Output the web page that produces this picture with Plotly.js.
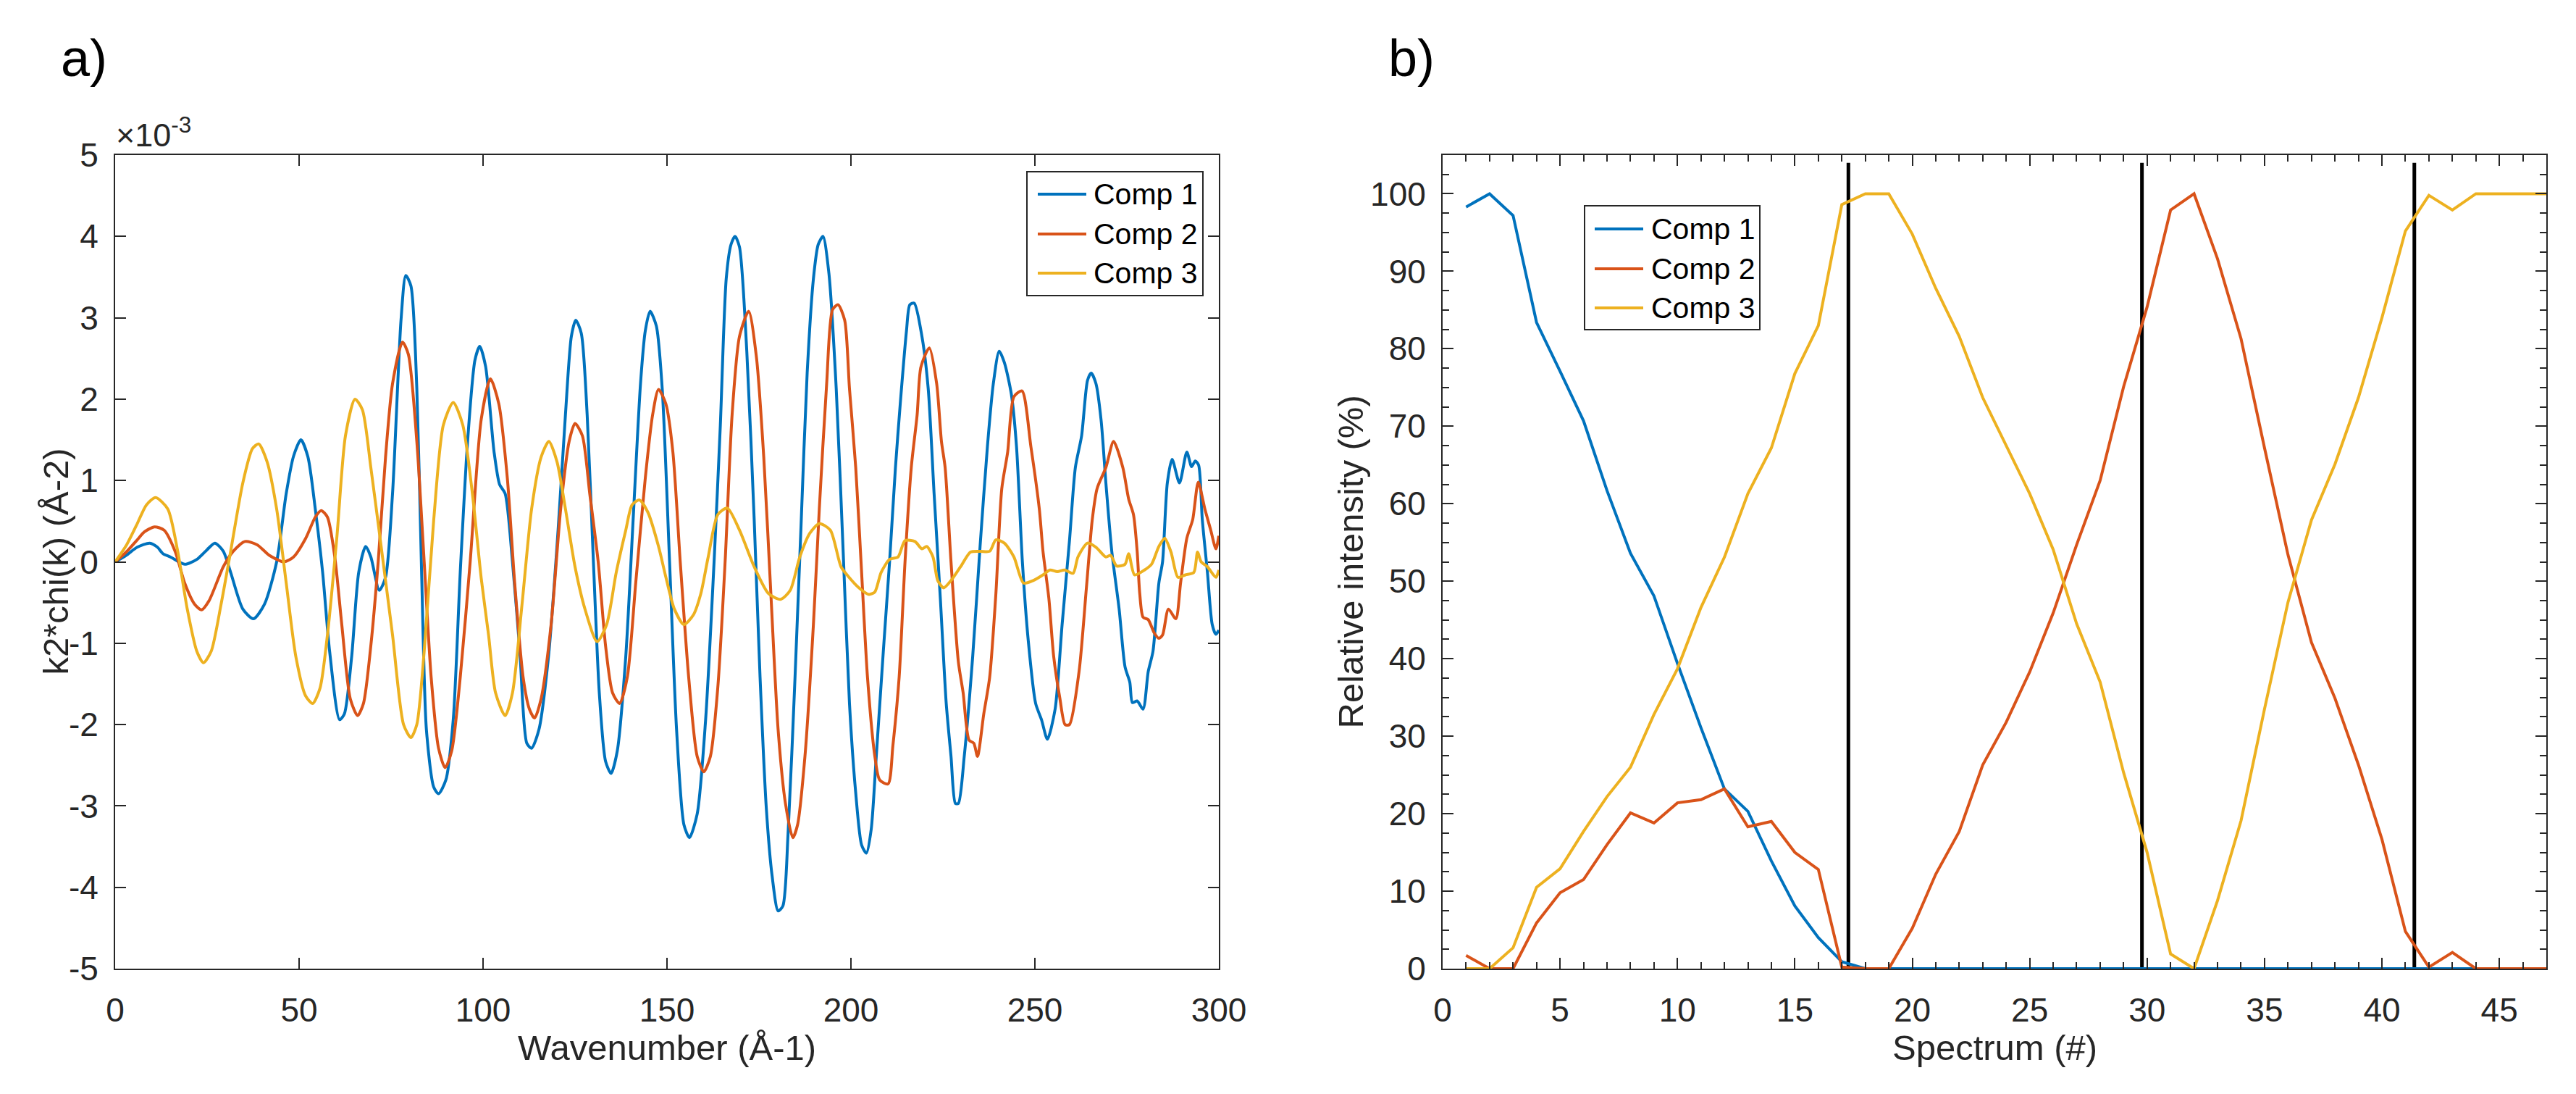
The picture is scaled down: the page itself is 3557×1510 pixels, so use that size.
<!DOCTYPE html>
<html>
<head>
<meta charset="utf-8">
<script src="https://cdn.plot.ly/plotly-3.0.1.min.js"></script>
<style>
html, body { margin: 0; padding: 0; background: #ffffff; overflow: hidden; }
#chart { width: 3557px; height: 1510px; }
</style>
</head>
<body>
<div id="chart"></div>
<script>
// ---------------- DATA ----------------
const seriesNames = ['Comp 1', 'Comp 2', 'Comp 3'];

// Panel a) : k2*chi(k), values in units of 1e-3
const comp1K = [0,3,6,9.4,11.5,13,15,18.9,22.2,25,27.1,29.4,31.4,34.7,37.6,40.6,43.9,46.5,48.5,50.5,52.4,54.4,56.4,58.3,61,62.3,64.3,66.2,68.1,69.5,71.8,73.5,75.4,77.7,79,80.4,82,83.3,84.6,86.6,87.9,89.9,91.9,93.8,95.8,97.8,99.1,100.7,103,104.5,106,108,110,111.9,113.2,115.2,117.8,120.4,122.4,124,125.2,126.7,128.3,130,131.6,133.3,134.8,136.5,138.8,140.8,142.8,144.1,145.4,147.1,148.7,150.7,152.6,154.6,156.1,158.2,160.5,162.8,164.5,166.1,167.4,168.5,169.7,171.7,173.7,175.3,177,178.6,180.2,181.5,182.9,184.8,186.5,188.1,189.8,191.1,192.4,194,196,198,199.6,201.3,202.9,204.2,205.5,206.8,208.8,210.5,212.1,213.4,215.1,216,217.2,219.3,221,222.6,224.3,225.9,227.2,228.4,229.2,230.8,233.1,235.1,237.1,238.7,240.3,241.7,243.6,245,246.6,248.2,250.2,251.8,253.4,255.5,257.4,259.4,261,262.7,264.3,265.3,266.6,268,269.3,270.9,272.9,274.5,275.8,276.5,277.8,279.4,280.8,282.1,283.7,284.7,286,287.3,289.3,291.3,292.6,293.6,294.5,295.5,296.9,298.2,299.2,300];
const comp1Chi = [0,0.08,0.18,0.23,0.18,0.1,0.06,-0.03,0.03,0.15,0.23,0.13,-0.13,-0.58,-0.70,-0.52,0,0.84,1.3,1.50,1.29,0.65,-0.13,-1.10,-1.94,-1.87,-1.16,-0.13,0.19,0.06,-0.35,-0.19,0.84,2.97,3.52,3.39,2.13,-0.13,-2.06,-2.77,-2.85,-2.68,-1.94,-0.13,1.48,2.48,2.65,2.40,1.35,0.95,0.84,0,-1.10,-2.23,-2.29,-2.06,-1.16,0.39,1.81,2.77,2.97,2.81,1.81,0,-1.61,-2.45,-2.60,-2.32,-1.16,0.52,2.19,2.84,3.08,2.90,2.13,0,-2.06,-3.23,-3.39,-3.10,-1.94,0,1.68,3.48,3.90,4.0,3.87,2.58,0.52,-1.42,-3.03,-3.87,-4.29,-4.23,-3.35,-1.42,0.52,2.32,3.48,3.90,4.0,3.55,2.13,0,-1.74,-2.84,-3.48,-3.58,-3.29,-2.45,-1.10,0,1.16,1.94,2.84,3.16,3.18,2.77,2.13,0.84,-0.45,-1.74,-2.39,-2.97,-2.97,-2.39,-1.16,0.19,1.42,2.19,2.59,2.45,2.06,1.42,0,-0.97,-1.74,-1.94,-2.18,-1.81,-0.77,0.26,1.16,1.55,2.23,2.32,2.19,1.74,0.97,0.13,-0.58,-1.29,-1.48,-1.73,-1.71,-1.81,-1.35,-1.10,-0.26,0,0.97,1.26,0.97,1.35,1.17,1.24,1.19,0.52,-0.13,-0.77,-0.89,-0.84];

const comp2K = [0,3,5.8,8,10.7,13.3,16.3,18.9,21.6,23.5,25.5,29.4,32.1,35.3,38.6,41.9,45.9,48.5,51.8,54.4,56,57.7,59.7,61.6,63.9,65.9,67.5,69.5,71.5,73.5,75.4,78.1,79.7,82,84,85.9,87.9,89.7,91.5,93.8,96.5,99.5,102,104.3,106.6,108.6,110.9,112.6,114,115.8,118.5,121.1,123.4,125,127,129,131.3,133.3,135.2,137.1,139.2,141.5,144.1,146.1,147.7,149.7,151.6,153.6,155.9,158.2,160,161.8,163.8,165.8,167.7,169.7,172.2,174.3,176.3,178.3,180.2,182.2,184.2,185.5,187.5,189.8,191.4,193.4,195,196.5,198.3,199.6,201.3,202.9,204.5,206.5,207.8,210.1,211.4,213.1,214.7,216.4,218,219,221.3,223.3,224.6,225.6,227.2,229.2,230.5,232.1,233.4,234.4,236.1,237.7,239.4,241,242.6,244.3,246.5,248.9,251.2,252.2,253.8,255.1,256.8,258.2,259.4,262,264,265.6,266.9,269.3,271.4,273.9,275.5,276.8,277.8,278.5,279.4,280.8,282.4,283.7,284.7,286.3,288.3,289.6,291.3,292.9,294.4,296.2,297.8,299.2,300];
const comp2Chi = [0,0.12,0.26,0.37,0.43,0.39,0.13,-0.26,-0.52,-0.59,-0.48,-0.06,0.13,0.25,0.21,0.08,0,0.06,0.29,0.55,0.63,0.55,0.06,-0.77,-1.68,-1.89,-1.74,-1.03,0,1.29,2.19,2.70,2.55,1.48,0,-1.42,-2.29,-2.53,-2.32,-1.42,0,1.75,2.25,1.94,1.03,-0.26,-1.42,-1.81,-1.92,-1.68,-0.77,0.65,1.48,1.70,1.55,0.84,0,-1.03,-1.61,-1.74,-1.42,-0.26,1.03,1.81,2.12,1.94,1.35,0,-1.42,-2.39,-2.58,-2.39,-1.55,0,1.81,2.77,3.08,2.52,1.29,-0.45,-2.06,-2.97,-3.39,-3.23,-2.39,-0.77,0.65,2.19,3.10,3.16,2.97,2.13,1.16,-0.13,-1.42,-2.39,-2.68,-2.73,-2.26,-1.42,0,1.16,1.81,2.39,2.63,2.19,1.48,1.16,0,-1.23,-1.61,-2.19,-2.23,-2.39,-1.87,-1.42,-0.39,0.90,1.35,2.03,2.10,1.42,0.65,0.13,-0.45,-1.16,-1.68,-2.0,-2.0,-1.35,-0.32,0.52,0.90,1.16,1.48,1.16,0.77,0.58,0.13,-0.39,-0.68,-0.71,-0.87,-0.94,-0.90,-0.58,-0.70,-0.26,0.29,0.52,0.98,0.65,0.39,0.16,0.32];

const comp3K = [0,3,5.8,8.5,11,14.3,17,19.6,22.2,24,26.1,28.8,31.4,34.7,37.3,39,41.3,43.9,46.5,49.1,51.8,53.7,55.7,57.7,60.3,62.6,65.2,67.2,69.5,72.1,75.4,78.4,80.4,82,84,86.6,89.2,91.9,94.5,97.1,99.5,101.5,103.4,106,108,110.6,113.2,115.8,117.9,120.1,122.4,125,127.7,131,133.6,136.2,138.8,140.5,142.5,144.8,147.7,149.7,152,154.6,157.2,159.2,161.2,163.8,166.4,169.7,173.7,177.6,180.9,183.5,186.1,188.8,191.4,194.4,197.3,199.3,202.2,204.9,206.5,208.2,210.5,212.8,214.7,217.4,219.3,220.6,222.3,223.6,225.2,227.2,229.8,232.5,235.1,237.7,239.4,241.7,244.3,246.9,249.5,252.2,254.1,256.1,258.1,260.4,261.7,264.3,266.6,269.3,270.6,272.2,274.5,275.5,277.1,279.8,281.7,283.7,285.3,287,288.9,290.9,293.2,294.2,295.2,296.9,299.2,300];
const comp3Chi = [0,0.2,0.45,0.7,0.79,0.65,0.13,-0.58,-1.10,-1.24,-1.10,-0.52,0.13,0.97,1.39,1.45,1.23,0.65,-0.26,-1.16,-1.65,-1.74,-1.55,-0.90,0.32,1.55,2.0,1.87,1.16,0.26,-0.90,-2.0,-2.16,-2.0,-1.10,0.52,1.68,1.96,1.68,0.84,-0.2,-0.9,-1.61,-1.89,-1.61,-0.52,0.65,1.29,1.48,1.23,0.65,-0.06,-0.58,-0.98,-0.77,-0.13,0.39,0.70,0.76,0.61,0.19,-0.19,-0.58,-0.77,-0.65,-0.39,0.06,0.58,0.66,0.39,-0.06,-0.39,-0.46,-0.35,0.06,0.35,0.47,0.39,-0.06,-0.18,-0.32,-0.40,-0.37,-0.13,0.03,0.06,0.26,0.25,0.16,0.19,0.06,-0.23,-0.32,-0.23,-0.06,0.12,0.13,0.13,0.27,0.23,0.06,-0.26,-0.23,-0.16,-0.10,-0.12,-0.10,-0.14,0.06,0.23,0.18,0.06,0.08,-0.05,-0.03,0.10,-0.16,-0.10,-0.03,0.19,0.29,0.12,-0.19,-0.16,-0.13,0.12,0,-0.06,-0.19,-0.10];

const chiTickVals = [-5,-4,-3,-2,-1,0,1,2,3,4,5];
const chiTickText = ['-5','-4','-3','-2','-1','0','1','2','3','4','5'];
const kTickVals = [0,50,100,150,200,250,300];

// Panel b) : relative intensity (%) per spectrum
const spectrumNo = [1,2,3,4,5,6,7,8,9,10,11,12,13,14,15,16,17,18,19,20,21,22,23,24,25,26,27,28,29,30,31,32,33,34,35,36,37,38,39,40,41,42,43,44,45,46,47];
const comp1Pct = [98.3,100,97.2,83.4,77.1,70.7,61.7,53.6,48.1,39.4,31.1,23.2,20.3,13.9,8.1,4.0,0.9,0,0,0,0,0,0,0,0,0,0,0,0,0,0,0,0,0,0,0,0,0,0,0,0,0,0,0,0,0,0];
const comp2Pct = [1.7,0,0,5.9,9.8,11.5,16.0,20.1,18.8,21.4,21.8,23.2,18.3,19.0,15.0,12.8,0.2,0,0,5.2,12.2,17.7,26.3,31.8,38.3,45.9,54.7,63.0,75.1,85.4,97.9,100,91.6,81.3,67.2,53.4,42.1,34.9,26.3,16.7,4.8,0.2,2.1,0,0,0,0];
const comp3Pct = [0,0,2.7,10.5,12.9,17.7,22.2,26.0,32.8,38.7,46.6,53.1,61.3,67.2,76.8,83.0,98.6,100,100,94.8,87.8,81.6,73.7,67.5,61.3,54.1,44.5,37.0,25.3,15.0,1.9,0,8.8,19.1,33.5,47.3,57.9,65.1,73.7,84.0,95.2,99.8,97.9,100,100,100,100];
const boundarySpectra = [17.28, 29.78, 41.38];
const pctTickVals = [0,10,20,30,40,50,60,70,80,90,100];
const specTickVals = [0,5,10,15,20,25,30,35,40,45];

// ---------------- STYLE / LAYOUT ----------------
const W = 3557, H = 1510;
const colors = ['#0072BD', '#D95319', '#EDB120'];
const FONT = 'Liberation Sans, Arial, Helvetica, sans-serif';
const AX = '#262626';
const px = p => p / W;
const py = p => 1 - p / H;

const plotTop = 214, plotBottom = 1337;
const aLeft = 159, aRight = 1683;
const bLeft = 1992, bRight = 3516;

const axisBase = {
  showline: true, linecolor: AX, linewidth: 2, mirror: 'ticks',
  ticks: 'inside', ticklen: 15, tickwidth: 2, tickcolor: AX,
  showgrid: false, zeroline: false, fixedrange: true, automargin: false,
  tickfont: { family: FONT, size: 46, color: AX }
};

const traces = [];
const kArrays = [comp1K, comp2K, comp3K];
const chiArrays = [comp1Chi, comp2Chi, comp3Chi];
for (let i = 0; i < 3; i++) {
  traces.push({
    type: 'scatter', mode: 'lines', name: seriesNames[i],
    x: kArrays[i], y: chiArrays[i], xaxis: 'x', yaxis: 'y',
    line: { color: colors[i], width: 4, shape: 'spline', smoothing: 0.7 },
    showlegend: false, hoverinfo: 'skip'
  });
}
boundarySpectra.forEach(b => {
  traces.push({
    type: 'scatter', mode: 'lines', x: [b, b], y: [0, 104], xaxis: 'x2', yaxis: 'y2',
    line: { color: '#000000', width: 5 }, showlegend: false, hoverinfo: 'skip'
  });
});
const pctArrays = [comp1Pct, comp2Pct, comp3Pct];
for (let i = 0; i < 3; i++) {
  traces.push({
    type: 'scatter', mode: 'lines', name: seriesNames[i],
    x: spectrumNo, y: pctArrays[i], xaxis: 'x2', yaxis: 'y2',
    line: { color: colors[i], width: 4 },
    showlegend: false, hoverinfo: 'skip'
  });
}

// custom legends (MATLAB look)
const shapes = [];
const annotations = [];
function addLegend(box, lineX0, lineX1, rows, textX) {
  shapes.push({ type: 'rect', xref: 'paper', yref: 'paper',
    x0: px(box[0]), x1: px(box[1]), y0: py(box[3]), y1: py(box[2]),
    line: { color: AX, width: 2 }, fillcolor: '#ffffff', layer: 'above' });
  for (let i = 0; i < 3; i++) {
    shapes.push({ type: 'line', xref: 'paper', yref: 'paper',
      x0: px(lineX0), x1: px(lineX1), y0: py(rows[i]), y1: py(rows[i]),
      line: { color: colors[i], width: 4 }, layer: 'above' });
    annotations.push({ xref: 'paper', yref: 'paper', x: px(textX), y: py(rows[i]),
      xanchor: 'left', yanchor: 'middle', showarrow: false, text: seriesNames[i],
      font: { family: FONT, size: 41, color: '#000000' } });
  }
}
addLegend([1418, 1661, 237, 408], 1433, 1500, [268, 323, 377], 1508);
addLegend([2188, 2430, 284, 455], 2202, 2269, [316, 371, 425], 2278);

// panel letters
annotations.push({ xref: 'paper', yref: 'paper', x: px(82), y: py(80), xanchor: 'left', yanchor: 'middle',
  showarrow: false, text: 'a)', font: { family: FONT, size: 72, color: '#000000' } });
annotations.push({ xref: 'paper', yref: 'paper', x: px(1915), y: py(80), xanchor: 'left', yanchor: 'middle',
  showarrow: false, text: 'b)', font: { family: FONT, size: 72, color: '#000000' } });
// exponent label
annotations.push({ xref: 'paper', yref: 'paper', x: px(158), y: py(214), xanchor: 'left', yanchor: 'bottom',
  showarrow: false, text: '×10<sup>-3</sup>', font: { family: FONT, size: 45, color: AX } });
// axis titles
annotations.push({ xref: 'paper', yref: 'paper', x: px((aLeft + aRight) / 2), y: py(1446), xanchor: 'center', yanchor: 'middle',
  showarrow: false, text: 'Wavenumber (Å-1)', font: { family: FONT, size: 49, color: AX } });
annotations.push({ xref: 'paper', yref: 'paper', x: px((bLeft + bRight) / 2), y: py(1446), xanchor: 'center', yanchor: 'middle',
  showarrow: false, text: 'Spectrum (#)', font: { family: FONT, size: 49, color: AX } });
annotations.push({ xref: 'paper', yref: 'paper', x: px(76), y: py((plotTop + plotBottom) / 2), xanchor: 'center', yanchor: 'middle',
  textangle: -90, showarrow: false, text: 'k2*chi(k) (Å-2)', font: { family: FONT, size: 49, color: AX } });
annotations.push({ xref: 'paper', yref: 'paper', x: px(1864), y: py((plotTop + plotBottom) / 2), xanchor: 'center', yanchor: 'middle',
  textangle: -90, showarrow: false, text: 'Relative intensity (%)', font: { family: FONT, size: 49, color: AX } });

const layout = {
  width: W, height: H,
  margin: { l: 0, r: 0, t: 0, b: 0, pad: 0 },
  paper_bgcolor: '#ffffff', plot_bgcolor: '#ffffff',
  showlegend: false,
  xaxis: Object.assign({}, axisBase, {
    domain: [px(aLeft), px(aRight)], range: [0, 300], anchor: 'y',
    tickvals: kTickVals, ticktext: kTickVals.map(String), ticklabelstandoff: 16
  }),
  yaxis: Object.assign({}, axisBase, {
    domain: [py(plotBottom), py(plotTop)], range: [-5, 5], anchor: 'x',
    tickvals: chiTickVals, ticktext: chiTickText, ticklabelstandoff: 12
  }),
  xaxis2: Object.assign({}, axisBase, {
    domain: [px(bLeft), px(bRight)], range: [0, 47], anchor: 'y2',
    tickvals: specTickVals, ticktext: specTickVals.map(String), ticklabelstandoff: 16,
    minor: { ticks: 'inside', dtick: 1, tick0: 0, ticklen: 9, tickwidth: 2, tickcolor: AX, showgrid: false }
  }),
  yaxis2: Object.assign({}, axisBase, {
    domain: [py(plotBottom), py(plotTop)], range: [0, 105], anchor: 'x2',
    tickvals: pctTickVals, ticktext: pctTickVals.map(String), ticklabelstandoff: 12,
    minor: { ticks: 'inside', dtick: 2.5, tick0: 0, ticklen: 9, tickwidth: 2, tickcolor: AX, showgrid: false }
  }),
  shapes: shapes,
  annotations: annotations
};

Plotly.newPlot('chart', traces, layout, { staticPlot: true, displayModeBar: false });
</script>
</body>
</html>
